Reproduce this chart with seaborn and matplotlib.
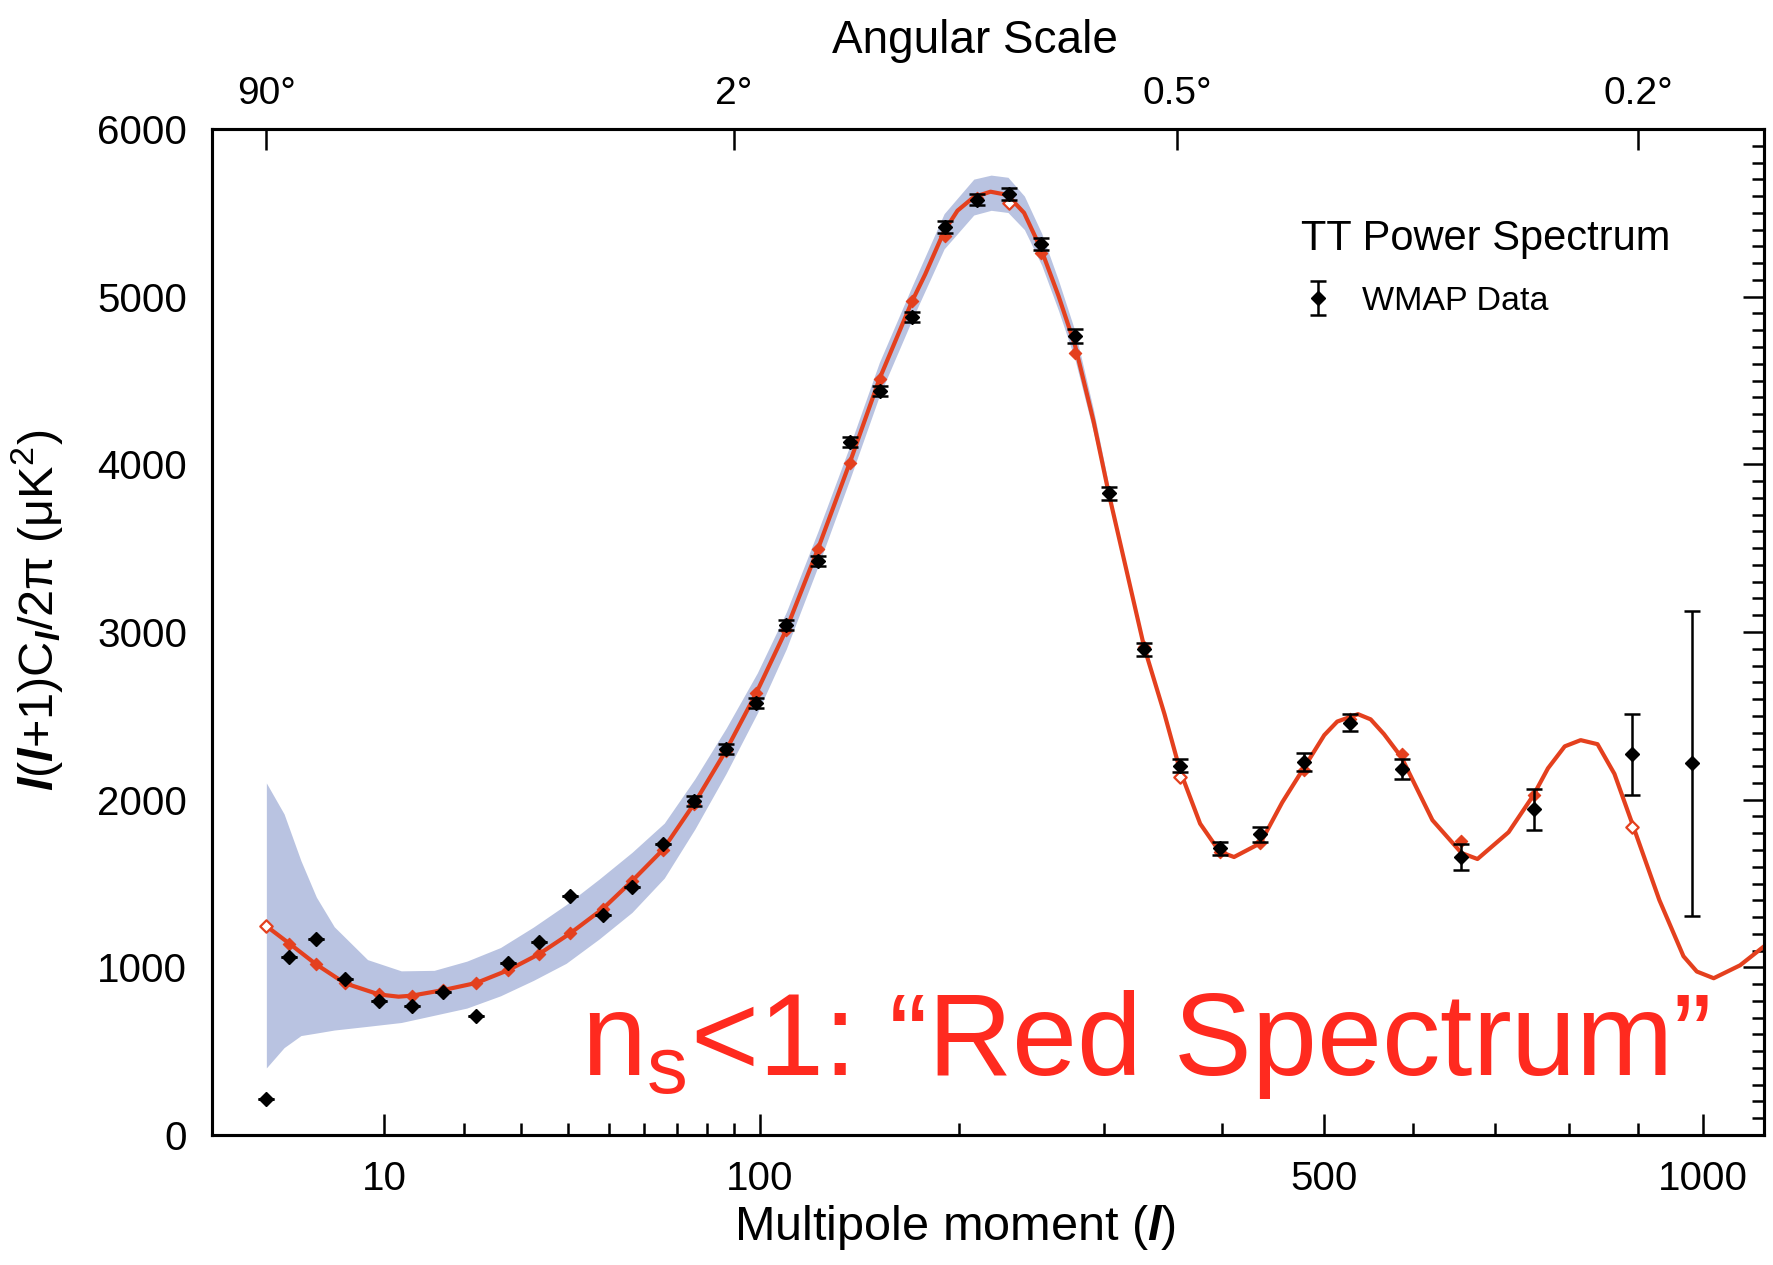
import numpy as np
import matplotlib
matplotlib.use('Agg')
import matplotlib.pyplot as plt
import seaborn as sns
from matplotlib.ticker import FixedLocator, MultipleLocator, NullLocator

# WMAP binned TT points (multipole, power in uK^2, 1-sigma error)
ell = [2, 3, 4.5, 6.5, 9.5, 13, 17, 22, 27.5, 33.5, 40.5, 48.5, 56.5, 65.5,
       75.7, 86.9, 98.6, 110.8, 125.1, 140, 155.3, 172.6, 191.4, 211, 231.5,
       253.6, 278.1, 303.6, 332.1, 362.5, 397.6, 435.9, 479.2, 528.6, 586.2,
       657.9, 751.3, 889.9, 983]
power = [212, 1063, 1171, 929, 798, 772, 854, 708, 1023, 1151, 1426, 1310, 1478, 1733,
         1990, 2301, 2577, 3042, 3423, 4132, 4437, 4877, 5417, 5579, 5613,
         5312, 4765, 3827, 2896, 2203, 1710, 1793, 2224, 2458, 2184,
         1658, 1943, 2270, 2216]
power_err = [0, 0, 0, 0, 0, 0, 0, 0, 0, 0, 0, 0, 0, 0,
             30, 30, 30, 30, 30, 30, 30, 30, 35, 35, 35,
             35, 40, 40, 40, 40, 40, 45, 55, 50, 60,
             80, 122, 240, 911]

# binned model values (red diamonds); some drawn hollow
model_ell = ell[:-1]
model_power = [1246, 1142, 1017, 905, 838, 831, 864, 907, 983, 1078, 1204, 1350, 1517, 1700,
               1975, 2290, 2636, 3010, 3497, 4008, 4508, 4972, 5363, 5590, 5558,
               5258, 4665, 3827, 2910, 2134, 1690, 1740, 2175, 2480, 2273,
               1752, 2027, 1837]
model_hollow = [0, 24, 29, 37]

# best-fit model curve
curve_ell = [2, 3, 4.5, 6.5, 9.5, 11.5, 13, 17, 22, 27.5, 33.5, 40.5, 48.5, 56.5, 65.5,
             75.7, 86.9, 98.6, 110.8, 125, 140, 155, 172.6, 180, 191, 199, 209, 219.6,
             230.5, 241.8, 253.6, 265.9, 278, 292, 303.6, 332, 349, 362.5, 380, 397.6,
             411, 436, 457.6, 479, 500.7, 514.5, 537, 551, 566, 586, 622.5, 658, 678,
             718, 751, 770.6, 793.7, 816, 840, 864.5, 890, 931.6, 969, 990, 1017, 1060, 1100]
curve_power = [1246, 1142, 1017, 905, 838, 825, 831, 864, 907, 983, 1078, 1204, 1350, 1517, 1700,
               1975, 2290, 2636, 3010, 3497, 4008, 4508, 4972, 5133, 5390, 5513, 5594, 5626,
               5607, 5500, 5282, 5005, 4709, 4253, 3827, 2910, 2510, 2170, 1857, 1690,
               1658, 1740, 1984, 2185, 2385, 2466, 2510, 2479, 2391, 2253, 1878, 1682, 1646,
               1806, 2027, 2187, 2318, 2355, 2331, 2154, 1866, 1402, 1066, 975, 935, 1012, 1125]

# cosmic variance band
band_ell = [2, 2.75, 3.6, 4.5, 5.7, 8.4, 11.8, 15.8, 20.5, 26.1, 32.4, 39.5, 47.5, 56.4, 66,
            76, 87, 99, 111, 125, 140, 155, 173, 191, 209, 220, 231, 242, 254, 266, 278, 292, 304]
band_hi = [2100, 1915, 1636, 1419, 1242, 1046, 979, 982, 1037, 1118, 1240, 1374, 1526, 1686, 1860,
           2125, 2425, 2756, 3120, 3602, 4108, 4608, 5072, 5495, 5701, 5725, 5712, 5600, 5377,
           5095, 4794, 4320, 3860]
band_lo = [400, 521, 593, 608, 626, 648, 671, 714, 757, 830, 922, 1024, 1169, 1328, 1532,
           1825, 2155, 2516, 2900, 3392, 3908, 4408, 4872, 5285, 5487, 5515, 5502, 5400, 5187,
           4915, 4624, 4186, 3794]

bottom_ticks = [10, 100, 500, 1000]
bottom_minor = [20, 30, 40, 50, 60, 70, 80, 90, 200, 300, 400, 600, 700, 800, 900]
angle_deg = [90, 2, 0.5, 0.2]
angle_labels = ['90°', '2°', '0.5°', '0.2°']

sns.set_theme(style='white')
plt.rcParams['font.family'] = ['Liberation Sans', 'DejaVu Sans']
plt.rcParams['mathtext.fontset'] = 'custom'
plt.rcParams['mathtext.rm'] = 'Liberation Sans'
plt.rcParams['mathtext.it'] = 'Liberation Sans:italic'
plt.rcParams['mathtext.bf'] = 'Liberation Sans:bold'
plt.rcParams['mathtext.bfit'] = 'Liberation Sans:italic:bold'
for key in ['text.color', 'axes.labelcolor', 'xtick.color', 'ytick.color', 'axes.edgecolor']:
    plt.rcParams[key] = 'black'

RED = '#e4401e'
BAND = '#b9c3e1'


def fwd(x):
    x = np.asarray(x, dtype=float)
    return np.sign(x) * np.abs(x) ** 0.4


def inv(x):
    x = np.asarray(x, dtype=float)
    return np.sign(x) * np.abs(x) ** 2.5


fig = plt.figure(figsize=(17.73, 12.65), dpi=100)
ax = fig.add_axes([212 / 1773, 1 - 1135 / 1265, 1552 / 1773, 1006 / 1265])

ax.fill_between(band_ell, band_lo, band_hi, color=BAND, lw=0, zorder=1)
sns.lineplot(x=curve_ell, y=curve_power, ax=ax, color=RED, lw=3.0,
             sort=False, estimator=None, zorder=2)

filled = [i for i in range(len(model_ell)) if i not in model_hollow]
sns.scatterplot(x=[model_ell[i] for i in filled], y=[model_power[i] for i in filled],
                ax=ax, marker='D', s=40, color=RED, edgecolor=RED, linewidth=0.8, zorder=3)
sns.scatterplot(x=[model_ell[i] for i in model_hollow], y=[model_power[i] for i in model_hollow],
                ax=ax, marker='D', s=40, facecolor='white', edgecolor=RED, linewidth=1.6, zorder=3)

eb = ax.errorbar(ell, power, yerr=power_err, fmt='D', color='black', ms=7,
                 capsize=5.8, elinewidth=1.8, capthick=1.8, label='WMAP Data', zorder=5)

ax.set_xscale('function', functions=(fwd, inv))
ax.set_xlim(0.52, 1100)
ax.set_ylim(0, 6000)
ax.xaxis.set_major_locator(FixedLocator(bottom_ticks))
ax.xaxis.set_minor_locator(FixedLocator(bottom_minor))
ax.set_xticklabels([str(t) for t in bottom_ticks])
ax.yaxis.set_major_locator(MultipleLocator(1000))
ax.yaxis.set_minor_locator(MultipleLocator(100))

ax.tick_params(axis='both', which='both', direction='in', width=1.8, color='black',
               labelcolor='black', right=True, top=False, labelright=False)
ax.tick_params(axis='both', which='major', length=15, labelsize=29, pad=18)
ax.tick_params(axis='both', which='minor', length=8.5)
for sp in ax.spines.values():
    sp.set_linewidth(2.2)
    sp.set_color('black')

# angular scale on top
ax2 = ax.twiny()
ax2.set_xscale('function', functions=(fwd, inv))
ax2.set_xlim(ax.get_xlim())
ax2.xaxis.set_major_locator(FixedLocator([180.0 / a for a in angle_deg]))
ax2.xaxis.set_minor_locator(NullLocator())
ax2.set_xticklabels(angle_labels)
ax2.tick_params(axis='x', which='major', direction='in', length=15, width=1.8,
                labelsize=28, pad=12, color='black', labelcolor='black')
for sp in ax2.spines.values():
    sp.set_linewidth(2.2)
    sp.set_color('black')

fig.text(975 / 1773, 1 - 53 / 1265, 'Angular Scale', ha='center', va='baseline',
         fontsize=33, color='black')

ax.set_xlabel(r'Multipole moment ($\mathbfit{l}$)', fontsize=35, color='black')
ax.xaxis.set_label_coords(0.4787, -0.068)
ax.set_ylabel(r'$\mathbfit{l}$($\mathbfit{l}$+1)C$_{\mathbfit{l}}$/2π (μK$^{2}$)',
              fontsize=35, color='black')
ax.yaxis.set_label_coords(-0.095, 0.521)

leg = ax.legend(handles=[eb], labels=['WMAP Data'], title='TT Power Spectrum',
                loc='upper left', bbox_to_anchor=(0.7017, 0.911), frameon=False,
                fontsize=24.5, title_fontsize=30, alignment='left', borderaxespad=0,
                borderpad=0, handlelength=1.0, handletextpad=0.8, labelspacing=0.8)
for t in leg.get_texts():
    t.set_color('black')
leg.get_title().set_color('black')

ax.text(0.2378, 0.0596, r'$\mathrm{n}_{\mathrm{s}}$<1: “Red Spectrum”', transform=ax.transAxes,
        fontsize=84, color='#ff2a1f', va='baseline', ha='left', zorder=6)

fig.savefig('out.png', dpi=100, facecolor='white')
